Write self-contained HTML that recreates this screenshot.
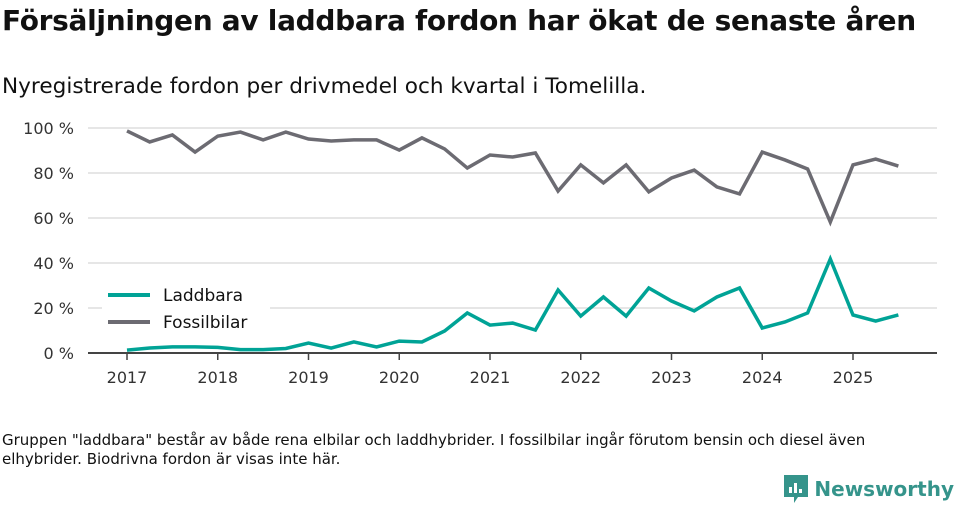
<!DOCTYPE html>
<html><head><meta charset="utf-8"><style>
body{margin:0;width:960px;height:505px;background:#fff;font-family:"DejaVu Sans","Liberation Sans",sans-serif;color:#111;overflow:hidden;position:relative}
.t{position:absolute;left:2px;top:4px;font-size:28px;font-weight:bold;letter-spacing:-0.3px}
.s{position:absolute;left:2px;top:74px;font-size:21.6px}
.f{position:absolute;left:2px;top:431px;font-size:15px;line-height:19px;width:900px}
.logo{position:absolute;right:6px;top:475px;font-size:20px;font-weight:bold;color:#35948b;display:flex;align-items:center;gap:6px}
</style></head><body>
<div class="t">Försäljningen av laddbara fordon har ökat de senaste åren</div>
<div class="s">Nyregistrerade fordon per drivmedel och kvartal i Tomelilla.</div>
<svg id="c" width="960" height="505" style="position:absolute;left:0;top:0"></svg>
<div class="f">Gruppen "laddbara" består av både rena elbilar och laddhybrider. I fossilbilar ingår förutom bensin och diesel även elhybrider. Biodrivna fordon är visas inte här.</div>
<div class="logo"><svg width="24" height="28" viewBox="0 0 24 28"><path d="M0 0H24V22H14L10 28V22H0Z" fill="#35948b"/><rect x="5" y="12" width="3" height="6" fill="#fff"/><rect x="10" y="8" width="3" height="10" fill="#fff"/><rect x="15" y="14" width="3" height="4" fill="#fff"/></svg>Newsworthy</div>
<script>
const years=[2017,2018,2019,2020,2021,2022,2023,2024,2025];
const yTicks=[0,20,40,60,80,100];
const laddbara=[1.3,2.2,2.7,2.7,2.5,1.5,1.5,2.0,4.4,2.2,4.9,2.7,5.3,4.9,9.8,17.8,12.4,13.3,10.2,28,16.4,24.9,16.4,28.9,23.1,18.7,24.9,28.9,11.1,13.8,17.8,41.8,16.9,14.2,16.9];
const fossil=[98.7,93.8,96.9,89.3,96.4,98.2,94.7,98.2,95.1,94.2,94.7,94.7,90.2,95.6,90.7,82.2,88,87.1,88.9,72,83.6,75.6,83.6,71.6,77.8,81.3,73.8,70.7,89.3,85.8,81.8,58.2,83.6,86.2,83.1];
const svg=document.getElementById('c'),NS='http://www.w3.org/2000/svg';
const x=t=>127+(t-2017)*90.75, y=v=>353-v*2.25;
function el(tag,a){const e=document.createElementNS(NS,tag);for(const k in a)e.setAttribute(k,a[k]);svg.appendChild(e);return e;}
yTicks.forEach(v=>{
 if(v>0){const g=el('line',{x1:88,x2:937,y1:y(v),y2:y(v),stroke:'#ddd','stroke-width':1.5});
 
 }
 const t=el('text',{x:74,y:y(v)+6,'text-anchor':'end','font-size':16,fill:'#333','font-family':'DejaVu Sans,sans-serif'});t.textContent=v+' %';
 
 
});
const ax=el('line',{x1:88,x2:937,y1:353,y2:353,stroke:'#444','stroke-width':2});


years.forEach(yr=>{
 el('line',{x1:x(yr),x2:x(yr),y1:353,y2:360,stroke:'#444','stroke-width':1.5});
 const t=el('text',{x:x(yr),y:383,'text-anchor':'middle','font-size':16,fill:'#333','font-family':'DejaVu Sans,sans-serif'});t.textContent=yr;
 
 
});
function line(d,c,n){const p=el('polyline',{points:d.map((v,i)=>x(2017+i/4)+','+y(v)).join(' '),fill:'none',stroke:c,'stroke-width':3.5,'stroke-linejoin':'miter'});
 
 }
line(fossil,'#6c6b72','fossil-line');
line(laddbara,'#00a396','laddbara-line');
el('rect',{x:102,y:282,width:168,height:56,fill:'#fff'});
[['Laddbara','#00a396',295],['Fossilbilar','#6c6b72',322]].forEach(([n,c,yy])=>{
 const l=el('line',{x1:108,x2:150,y1:yy,y2:yy,stroke:c,'stroke-width':4});
 
 
 const t=el('text',{x:163,y:yy+6,'font-size':17,fill:'#111','font-family':'DejaVu Sans,sans-serif'});t.textContent=n;
 
 
});
</script>
</body></html>
